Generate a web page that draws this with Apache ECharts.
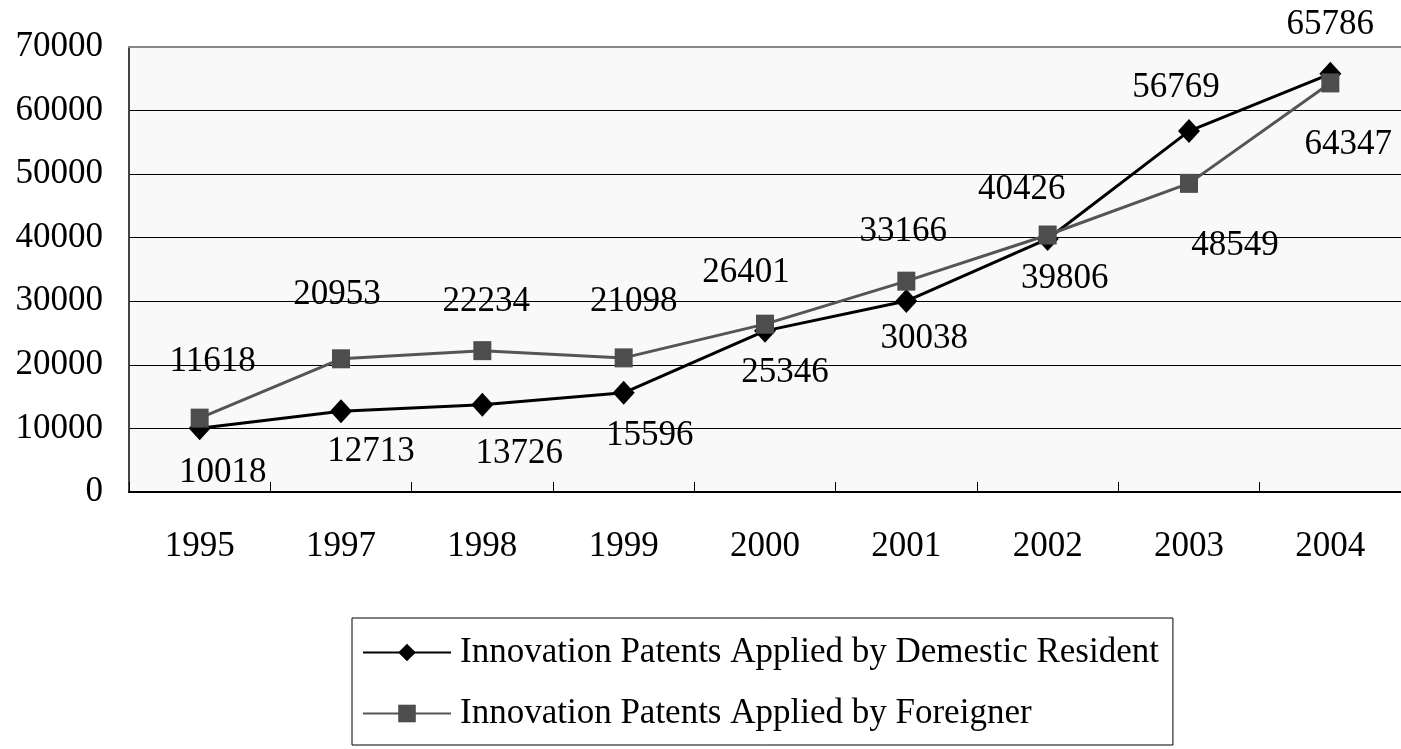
<!DOCTYPE html>
<html>
<head>
<meta charset="utf-8">
<title>Innovation Patents</title>
<script src="https://cdn.jsdelivr.net/npm/echarts@6/dist/echarts.min.js"></script>
<style>
  html, body { margin: 0; padding: 0; background: #fff; }
  #main { width: 1401px; height: 749px; }
</style>
</head>
<body>
<div id="main"></div>
<script>
// 数据
var years = ['1995', '1997', '1998', '1999', '2000', '2001', '2002', '2003', '2004'];
var domestic = [10018, 12713, 13726, 15596, 25346, 30038, 39806, 56769, 65786];
var foreign = [11618, 20953, 22234, 21098, 26401, 33166, 40426, 48549, 64347];
var seriesNames = ['Innovation Patents Applied by Demestic Resident', 'Innovation Patents Applied by Foreigner'];

// 数据标签相对于点的偏移 (像素)
var domesticOffsets = [[23, 44], [30, 41], [37, 49], [26, 43], [20, 42], [18, 38], [17, 40], [-13, -43], [0, -49]];
var foreignOffsets = [[13, -56], [-4, -64], [4, -49], [10, -56], [-19, -51], [-3, -49], [-26, -45], [46, 62], [18, 62]];

var FONT = "'Liberation Serif', 'Times New Roman', serif";

function withLabels(values, offsets) {
  return values.map(function (v, i) {
    return { value: v, label: { offset: offsets[i] } };
  });
}

var chart = echarts.init(document.getElementById('main'), null, { renderer: 'canvas' });

var option = {
  animation: false,
  backgroundColor: '#ffffff',
  textStyle: { fontFamily: FONT, color: '#000' },
  grid: {
    left: 129,
    top: 47,
    width: 1275,
    height: 445,
    show: true,
    backgroundColor: '#f9f9f9',
    borderWidth: 0
  },
  legend: {
    orient: 'vertical',
    left: 352,
    top: 618,
    padding: [17, 14, 14, 10],
    itemGap: 26,
    itemWidth: 88,
    itemHeight: 22,
    backgroundColor: '#ffffff',
    borderColor: '#000',
    borderWidth: 1,
    borderRadius: 0,
    textStyle: { fontFamily: FONT, fontSize: 35, color: '#000', padding: [0, 0, 0, 4] },
    data: seriesNames
  },
  xAxis: [
    {
      type: 'category',
      data: years,
      boundaryGap: true,
      axisLine: { lineStyle: { color: '#000', width: 2 } },
      axisTick: { show: true, inside: true, length: 10, lineStyle: { color: '#000', width: 1 } },
      axisLabel: { fontFamily: FONT, fontSize: 35, color: '#000', margin: 37 },
      splitLine: { show: false }
    },
    {
      type: 'category',
      data: years,
      position: 'top',
      axisLine: { lineStyle: { color: '#888', width: 2 } },
      axisTick: { show: false },
      axisLabel: { show: false }
    }
  ],
  yAxis: {
    type: 'value',
    min: 0,
    max: 70000,
    interval: 10000,
    axisLine: { show: true, lineStyle: { color: '#444', width: 2 } },
    axisTick: { show: false },
    axisLabel: {
      fontFamily: FONT,
      fontSize: 35,
      color: '#000',
      margin: 26,
      formatter: function (v) { return String(v); }
    },
    splitLine: { show: true, lineStyle: { color: '#000', width: 1 } }
  },
  series: [
    {
      name: seriesNames[0],
      type: 'line',
      data: withLabels(domestic, domesticOffsets),
      symbol: 'diamond',
      symbolSize: [22, 24],
      color: '#000',
      lineStyle: { color: '#000', width: 3 },
      itemStyle: { color: '#000' },
      label: {
        show: true,
        position: 'inside',
        fontFamily: FONT,
        fontSize: 35,
        color: '#000',
        align: 'center',
        verticalAlign: 'middle'
      },
      z: 3
    },
    {
      name: seriesNames[1],
      type: 'line',
      data: withLabels(foreign, foreignOffsets),
      symbol: 'rect',
      symbolSize: [18, 19],
      color: '#4d4d4d',
      lineStyle: { color: '#555', width: 3 },
      itemStyle: { color: '#4d4d4d' },
      label: {
        show: true,
        position: 'inside',
        fontFamily: FONT,
        fontSize: 35,
        color: '#000',
        align: 'center',
        verticalAlign: 'middle'
      },
      z: 4
    }
  ]
};

chart.setOption(option);
</script>
</body>
</html>
